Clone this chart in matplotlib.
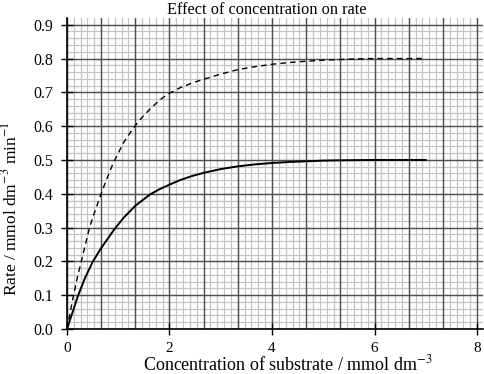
import numpy as np
import matplotlib.pyplot as plt
from matplotlib.ticker import FormatStrFormatter

plt.rcParams['font.family'] = ['Liberation Serif', 'DejaVu Serif']
plt.rcParams['mathtext.fontset'] = 'stix'

# readings
conc_solid = [0, 0.1, 0.22, 0.35, 0.5, 0.67, 0.8, 0.9, 1.1, 1.33, 1.62, 1.8, 2.0,
              2.2, 2.43, 2.67, 3.0, 3.33, 3.67, 4.0, 4.33, 4.67, 5.0, 5.33, 6.0, 7.0]
rate_solid = [0, 0.045, 0.1, 0.15, 0.198, 0.24, 0.268, 0.29, 0.328, 0.364, 0.398,
              0.413, 0.427, 0.44, 0.452, 0.462, 0.473, 0.481, 0.487, 0.491, 0.494,
              0.496, 0.498, 0.499, 0.5, 0.5]

conc_dash = [0, 0.118, 0.2, 0.28, 0.36, 0.44, 0.55, 0.667, 0.78, 0.9, 1.0, 1.1,
             1.23, 1.36, 1.5, 1.65, 1.8, 1.98, 2.2, 2.43, 2.63, 3.0, 3.33, 3.67,
             4.0, 4.33, 4.66, 5.0, 5.33, 5.67, 6.0, 7.0]
rate_dash = [0, 0.092, 0.15, 0.2, 0.25, 0.3, 0.35, 0.4, 0.445, 0.49, 0.52, 0.55,
             0.58, 0.607, 0.632, 0.655, 0.676, 0.696, 0.713, 0.727, 0.737, 0.754,
             0.767, 0.776, 0.783, 0.788, 0.792, 0.795, 0.797, 0.799, 0.8, 0.8]

xticks = [0, 2, 4, 6, 8]
yticks = [0.0, 0.1, 0.2, 0.3, 0.4, 0.5, 0.6, 0.7, 0.8, 0.9]

fig = plt.figure(figsize=(4.85, 3.74), dpi=100)
ax = fig.add_axes([0.138, 0.1203, 0.858, 0.8317])
xmax, ymax = 8.117, 0.92

# graph-paper grid
for v in np.arange(0, xmax, 2 / 15):
    ax.axvline(v, color='#c4c4c4', lw=0.9, zorder=0)
for h in np.arange(0, ymax, 0.02):
    ax.axhline(h, color='#c4c4c4', lw=0.9, zorder=0)
for v in np.arange(0, xmax, 2 / 3):
    ax.axvline(v, color='#505050', lw=1.0, zorder=1)
for h in np.arange(0, ymax, 0.1):
    ax.axhline(h, color='#505050', lw=1.0, zorder=1)

ax.plot(conc_solid, rate_solid, color='black', lw=1.4, zorder=3)
ax.plot(conc_dash, rate_dash, color='black', lw=1.0, dashes=(4, 3), zorder=3)

ax.set_xlim(0, xmax)
ax.set_ylim(0, ymax)
ax.set_xticks(xticks)
ax.set_yticks(yticks)
ax.yaxis.set_major_formatter(FormatStrFormatter('%.1f'))
ax.tick_params(direction='inout', length=8, width=1, labelsize=11.5, pad=6)
ax.tick_params(axis='x', labelsize=11, pad=5)
for s in ['top', 'right']:
    ax.spines[s].set_visible(False)
for s in ['left', 'bottom']:
    ax.spines[s].set_linewidth(1.2)
    ax.spines[s].set_zorder(4)

ax.set_title('Effect of concentration on rate', fontsize=11.8, pad=3, x=0.481)
ax.set_xlabel('Concentration of substrate / mmol dm$^{-3}$', fontsize=13,
              va='baseline')
ax.set_ylabel('Rate / mmol dm$^{-3}$ min$^{-1}$', fontsize=12.5)
ax.xaxis.set_label_coords(0.531, -0.133)
ax.yaxis.set_label_coords(-0.113, 0.386)

fig.savefig('out.png', dpi=100)
